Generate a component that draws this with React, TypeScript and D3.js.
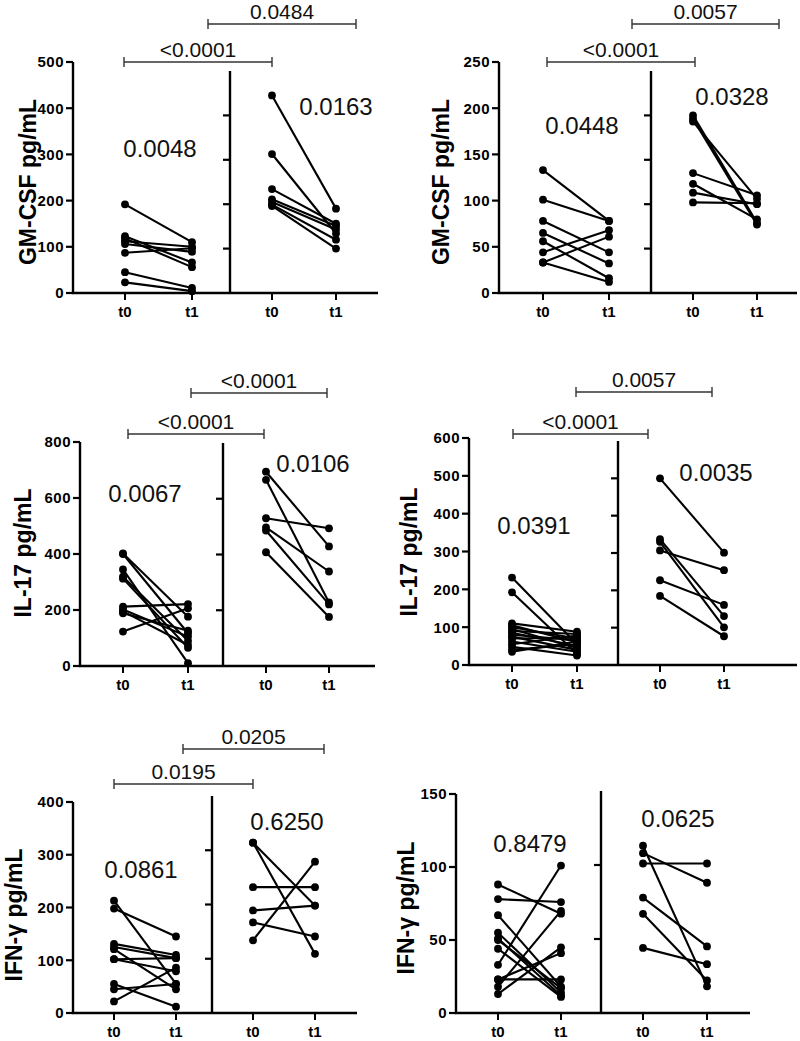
import React from "react";
import * as d3 from "d3";

const timepoints = ["t0", "t1"];

// ---- GM-CSF, panel A (left block / right block) ----
const gmA_L_t0 = [192, 123, 118, 112, 106, 87, 45, 23];
const gmA_L_t1 = [110, 66, 56, 100, 89, 97, 11, 4];
const gmA_R_t0 = [445, 313, 234, 211, 205, 199, 196];
const gmA_R_t1 = [190, 134, 156, 151, 143, 120, 100];

// ---- GM-CSF, panel B ----
const gmB_L_t0 = [133, 101, 78, 65, 56, 44, 33, 33];
const gmB_L_t1 = [78, 78, 44, 32, 16, 68, 61, 12];
const gmB_R_t0 = [200, 196, 193, 135, 123, 113, 102];
const gmB_R_t1 = [79, 77, 106, 110, 83, 100, 101];

// ---- IL-17, panel A ----
const ilA_L_t0 = [402, 400, 345, 319, 312, 212, 202, 195, 188, 123];
const ilA_L_t1 = [176, 117, 10, 90, 65, 221, 105, 75, 126, 206];
const ilA_R_t0 = [697, 668, 530, 497, 486, 408];
const ilA_R_t1 = [429, 228, 494, 339, 221, 176];

// ---- IL-17, panel B ----
const ilB_L_t0 = [231, 192, 110, 105, 100, 95, 90, 85, 80, 75, 70, 62, 55, 48, 40, 35];
const ilB_L_t1 = [55, 30, 88, 60, 70, 45, 82, 50, 65, 40, 72, 35, 78, 25, 55, 62];
const ilB_R_t0 = [500, 337, 330, 307, 227, 185];
const ilB_R_t1 = [301, 131, 101, 254, 161, 77];

// ---- IFN-γ, panel A ----
const ifA_L_t0 = [213, 198, 131, 125, 121, 102, 102, 55, 45, 22];
const ifA_L_t1 = [55, 145, 110, 104, 45, 104, 79, 12, 55, 86];
const ifA_R_t0 = [314, 314, 232, 189, 167, 134];
const ifA_R_t1 = [198, 109, 232, 198, 141, 279];

// ---- IFN-γ, panel B ----
const ifB_L_t0 = [88, 78, 67, 55, 51, 50, 44, 33, 23, 23, 18, 13];
const ifB_L_t1 = [68, 76, 18, 14, 12, 17, 11, 101, 23, 41, 70, 45];
const ifB_R_t0 = [113, 108, 101, 78, 67, 44];
const ifB_R_t1 = [18, 88, 101, 45, 22, 33];

// ---- labels ----
const yLabels = ["GM-CSF pg/mL", "GM-CSF pg/mL", "IL-17 pg/mL", "IL-17 pg/mL", "IFN-γ pg/mL", "IFN-γ pg/mL"];
const pWithin = [
  ["0.0048", "0.0163"],
  ["0.0448", "0.0328"],
  ["0.0067", "0.0106"],
  ["0.0391", "0.0035"],
  ["0.0861", "0.6250"],
  ["0.8479", "0.0625"],
];
const pBetween = [
  ["<0.0001", "0.0484"],
  ["<0.0001", "0.0057"],
  ["<0.0001", "<0.0001"],
  ["<0.0001", "0.0057"],
  ["0.0195", "0.0205"],
  [],
];
const leftMaxes = [500, 250, 800, 600, 400, 150];
const leftSteps = [100, 50, 200, 100, 100, 50];
const rightMaxes = [500, 250, 800, 600, 400, 150];
const rightTickSets = [
  [100, 200, 300, 400],
  [50, 100, 150, 200],
  [200, 400, 600],
  [100, 200, 300, 400, 500],
  [100, 200, 300],
  [50, 100],
];

type Layout = {
  lx: number; rx: number; base: number; lTop: number; rTop: number; xEnd: number;
  lRange: [number, number]; rRange: [number, number];
  ylx: number; yly: number;
  pL: [number, number]; pR: [number, number];
  br: { y: number; d1: number; d2: number; lo: boolean }[];
};

const layouts: Layout[] = [
  { lx: 73, rx: 230, base: 293, lTop: 62, rTop: 71, xEnd: 378, lRange: [125, 192], rRange: [272, 336], ylx: 36, yly: 182,
    pL: [160, 157], pR: [336, 115], br: [{ y: 62, d1: -1, d2: 0, lo: true }, { y: 24, d1: 16, d2: 20, lo: false }] },
  { lx: 499, rx: 651, base: 293, lTop: 62, rTop: 71, xEnd: 797, lRange: [543, 609], rRange: [693, 757], ylx: 449, yly: 182,
    pL: [582, 134], pR: [732, 105], br: [{ y: 62, d1: 4, d2: 2, lo: true }, { y: 24, d1: 23, d2: 22, lo: false }] },
  { lx: 80, rx: 223, base: 666, lTop: 442, rTop: 443, xEnd: 375, lRange: [123, 188], rRange: [266, 329], ylx: 31, yly: 553,
    pL: [145, 502], pR: [313, 472], br: [{ y: 434, d1: 5, d2: -2, lo: true }, { y: 393, d1: 3, d2: -2, lo: false }] },
  { lx: 469, rx: 618, base: 665, lTop: 438, rTop: 441, xEnd: 797, lRange: [512, 577], rRange: [660, 724], ylx: 417, yly: 552,
    pL: [534, 534], pR: [716, 481], br: [{ y: 434, d1: 1, d2: -12, lo: true }, { y: 392, d1: -1, d2: -12, lo: false }] },
  { lx: 73, rx: 212, base: 1013, lTop: 802, rTop: 796, xEnd: 357, lRange: [114, 176], rRange: [253, 315], ylx: 22, yly: 915,
    pL: [141, 878], pR: [287, 830], br: [{ y: 784, d1: 0, d2: 0, lo: true }, { y: 749, d1: 7, d2: 9, lo: false }] },
  { lx: 456, rx: 601, base: 1013, lTop: 794, rTop: 791, xEnd: 750, lRange: [498, 561], rRange: [643, 707], ylx: 414, yly: 908,
    pL: [530, 852], pR: [678, 827], br: [] },
];

const panelData = [
  { L: [gmA_L_t0, gmA_L_t1], R: [gmA_R_t0, gmA_R_t1] },
  { L: [gmB_L_t0, gmB_L_t1], R: [gmB_R_t0, gmB_R_t1] },
  { L: [ilA_L_t0, ilA_L_t1], R: [ilA_R_t0, ilA_R_t1] },
  { L: [ilB_L_t0, ilB_L_t1], R: [ilB_R_t0, ilB_R_t1] },
  { L: [ifA_L_t0, ifA_L_t1], R: [ifA_R_t0, ifA_R_t1] },
  { L: [ifB_L_t0, ifB_L_t1], R: [ifB_R_t0, ifB_R_t1] },
];

const FONT = "Arial, 'Liberation Sans', Helvetica, sans-serif";

function Panel({ i }: { i: number }) {
  const lay = layouts[i];
  const data = panelData[i];
  const yL = d3.scaleLinear().domain([0, leftMaxes[i]]).range([lay.base, lay.lTop]);
  const yR = d3.scaleLinear().domain([0, rightMaxes[i]]).range([lay.base, lay.rTop]);
  const xL = d3.scalePoint<string>().domain(timepoints).range(lay.lRange);
  const xR = d3.scalePoint<string>().domain(timepoints).range(lay.rRange);
  const lTicks = d3.range(0, leftMaxes[i] + 0.001, leftSteps[i]);

  const pairs = (d: number[][], x: typeof xL, y: typeof yL, key: string) =>
    d[0].map((v0, k) => {
      const v1 = d[1][k];
      const line = d3.line<[number, number]>()([
        [x("t0")!, y(v0)],
        [x("t1")!, y(v1)],
      ]);
      return (
        <g key={key + k}>
          <path d={line!} stroke="#000" strokeWidth={2.1} fill="none" />
          <circle cx={x("t0")} cy={y(v0)} r={3.9} fill="#000" />
          <circle cx={x("t1")} cy={y(v1)} r={3.9} fill="#000" />
        </g>
      );
    });

  return (
    <g>
      {/* x axis */}
      <line x1={lay.lx - 1.2} x2={lay.xEnd} y1={lay.base} y2={lay.base} stroke="#000" strokeWidth={2.4} />
      {/* left y axis */}
      <line x1={lay.lx} x2={lay.lx} y1={lay.base} y2={lay.lTop} stroke="#000" strokeWidth={2.4} />
      {lTicks.map((t) => (
        <g key={"lt" + t}>
          <line x1={lay.lx - 7} x2={lay.lx} y1={yL(t)} y2={yL(t)} stroke="#000" strokeWidth={2.2} />
          <text x={lay.lx - 9} y={yL(t)} dy="0.36em" textAnchor="end" fontFamily={FONT} fontWeight="bold"
            fontSize={15} letterSpacing={0.5} fill="#000">{t}</text>
        </g>
      ))}
      {/* right y axis */}
      <line x1={lay.rx} x2={lay.rx} y1={lay.base} y2={lay.rTop} stroke="#000" strokeWidth={2.4} />
      {rightTickSets[i].map((t) => (
        <line key={"rt" + t} x1={lay.rx - 7} x2={lay.rx} y1={yR(t)} y2={yR(t)} stroke="#000" strokeWidth={2.2} />
      ))}
      {/* x ticks and labels */}
      {[xL, xR].map((x, s) =>
        timepoints.map((tp) => (
          <g key={"xt" + s + tp}>
            <line x1={x(tp)} x2={x(tp)} y1={lay.base} y2={lay.base + 7} stroke="#000" strokeWidth={2} />
            <text x={x(tp)} y={lay.base + 24} textAnchor="middle" fontFamily={FONT} fontWeight="bold" fontSize={15} fill="#000">
              {tp}
            </text>
          </g>
        ))
      )}
      {/* y label */}
      <text transform={`translate(${lay.ylx},${lay.yly}) rotate(-90)`} textAnchor="middle" fontFamily={FONT}
        fontWeight="bold" fontSize={23} fill="#000">{yLabels[i]}</text>
      {/* data */}
      {pairs(data.L, xL, yL, "L")}
      {pairs(data.R, xR, yR, "R")}
      {/* within-group p values */}
      <text x={lay.pL[0]} y={lay.pL[1]} textAnchor="middle" fontFamily={FONT} fontSize={24} fill="#111">{pWithin[i][0]}</text>
      <text x={lay.pR[0]} y={lay.pR[1]} textAnchor="middle" fontFamily={FONT} fontSize={24} fill="#111">{pWithin[i][1]}</text>
      {/* brackets */}
      {lay.br.map((b, k) => {
        const tp = b.lo ? "t0" : "t1";
        const x1 = xL(tp)! + b.d1;
        const x2 = xR(tp)! + b.d2;
        const label = pBetween[i][k];
        return (
          <g key={"br" + k} stroke="#333" strokeWidth={1.4}>
            <line x1={x1} x2={x2} y1={b.y} y2={b.y} />
            <line x1={x1} x2={x1} y1={b.y - 5} y2={b.y + 5} />
            <line x1={x2} x2={x2} y1={b.y - 5} y2={b.y + 5} />
            <text x={(x1 + x2) / 2} y={b.y - 5} stroke="none" textAnchor="middle" fontFamily={FONT}
              fontSize={21} fill="#111">{label}</text>
          </g>
        );
      })}
    </g>
  );
}

export default function App() {
  return (
    <svg width={800} height={1041} viewBox="0 0 800 1041"
      style={{ position: "absolute", left: 0, top: 0, background: "#fff" }}>
      <rect width={800} height={1041} fill="#fff" />
      {layouts.map((_, i) => (
        <Panel key={i} i={i} />
      ))}
    </svg>
  );
}
